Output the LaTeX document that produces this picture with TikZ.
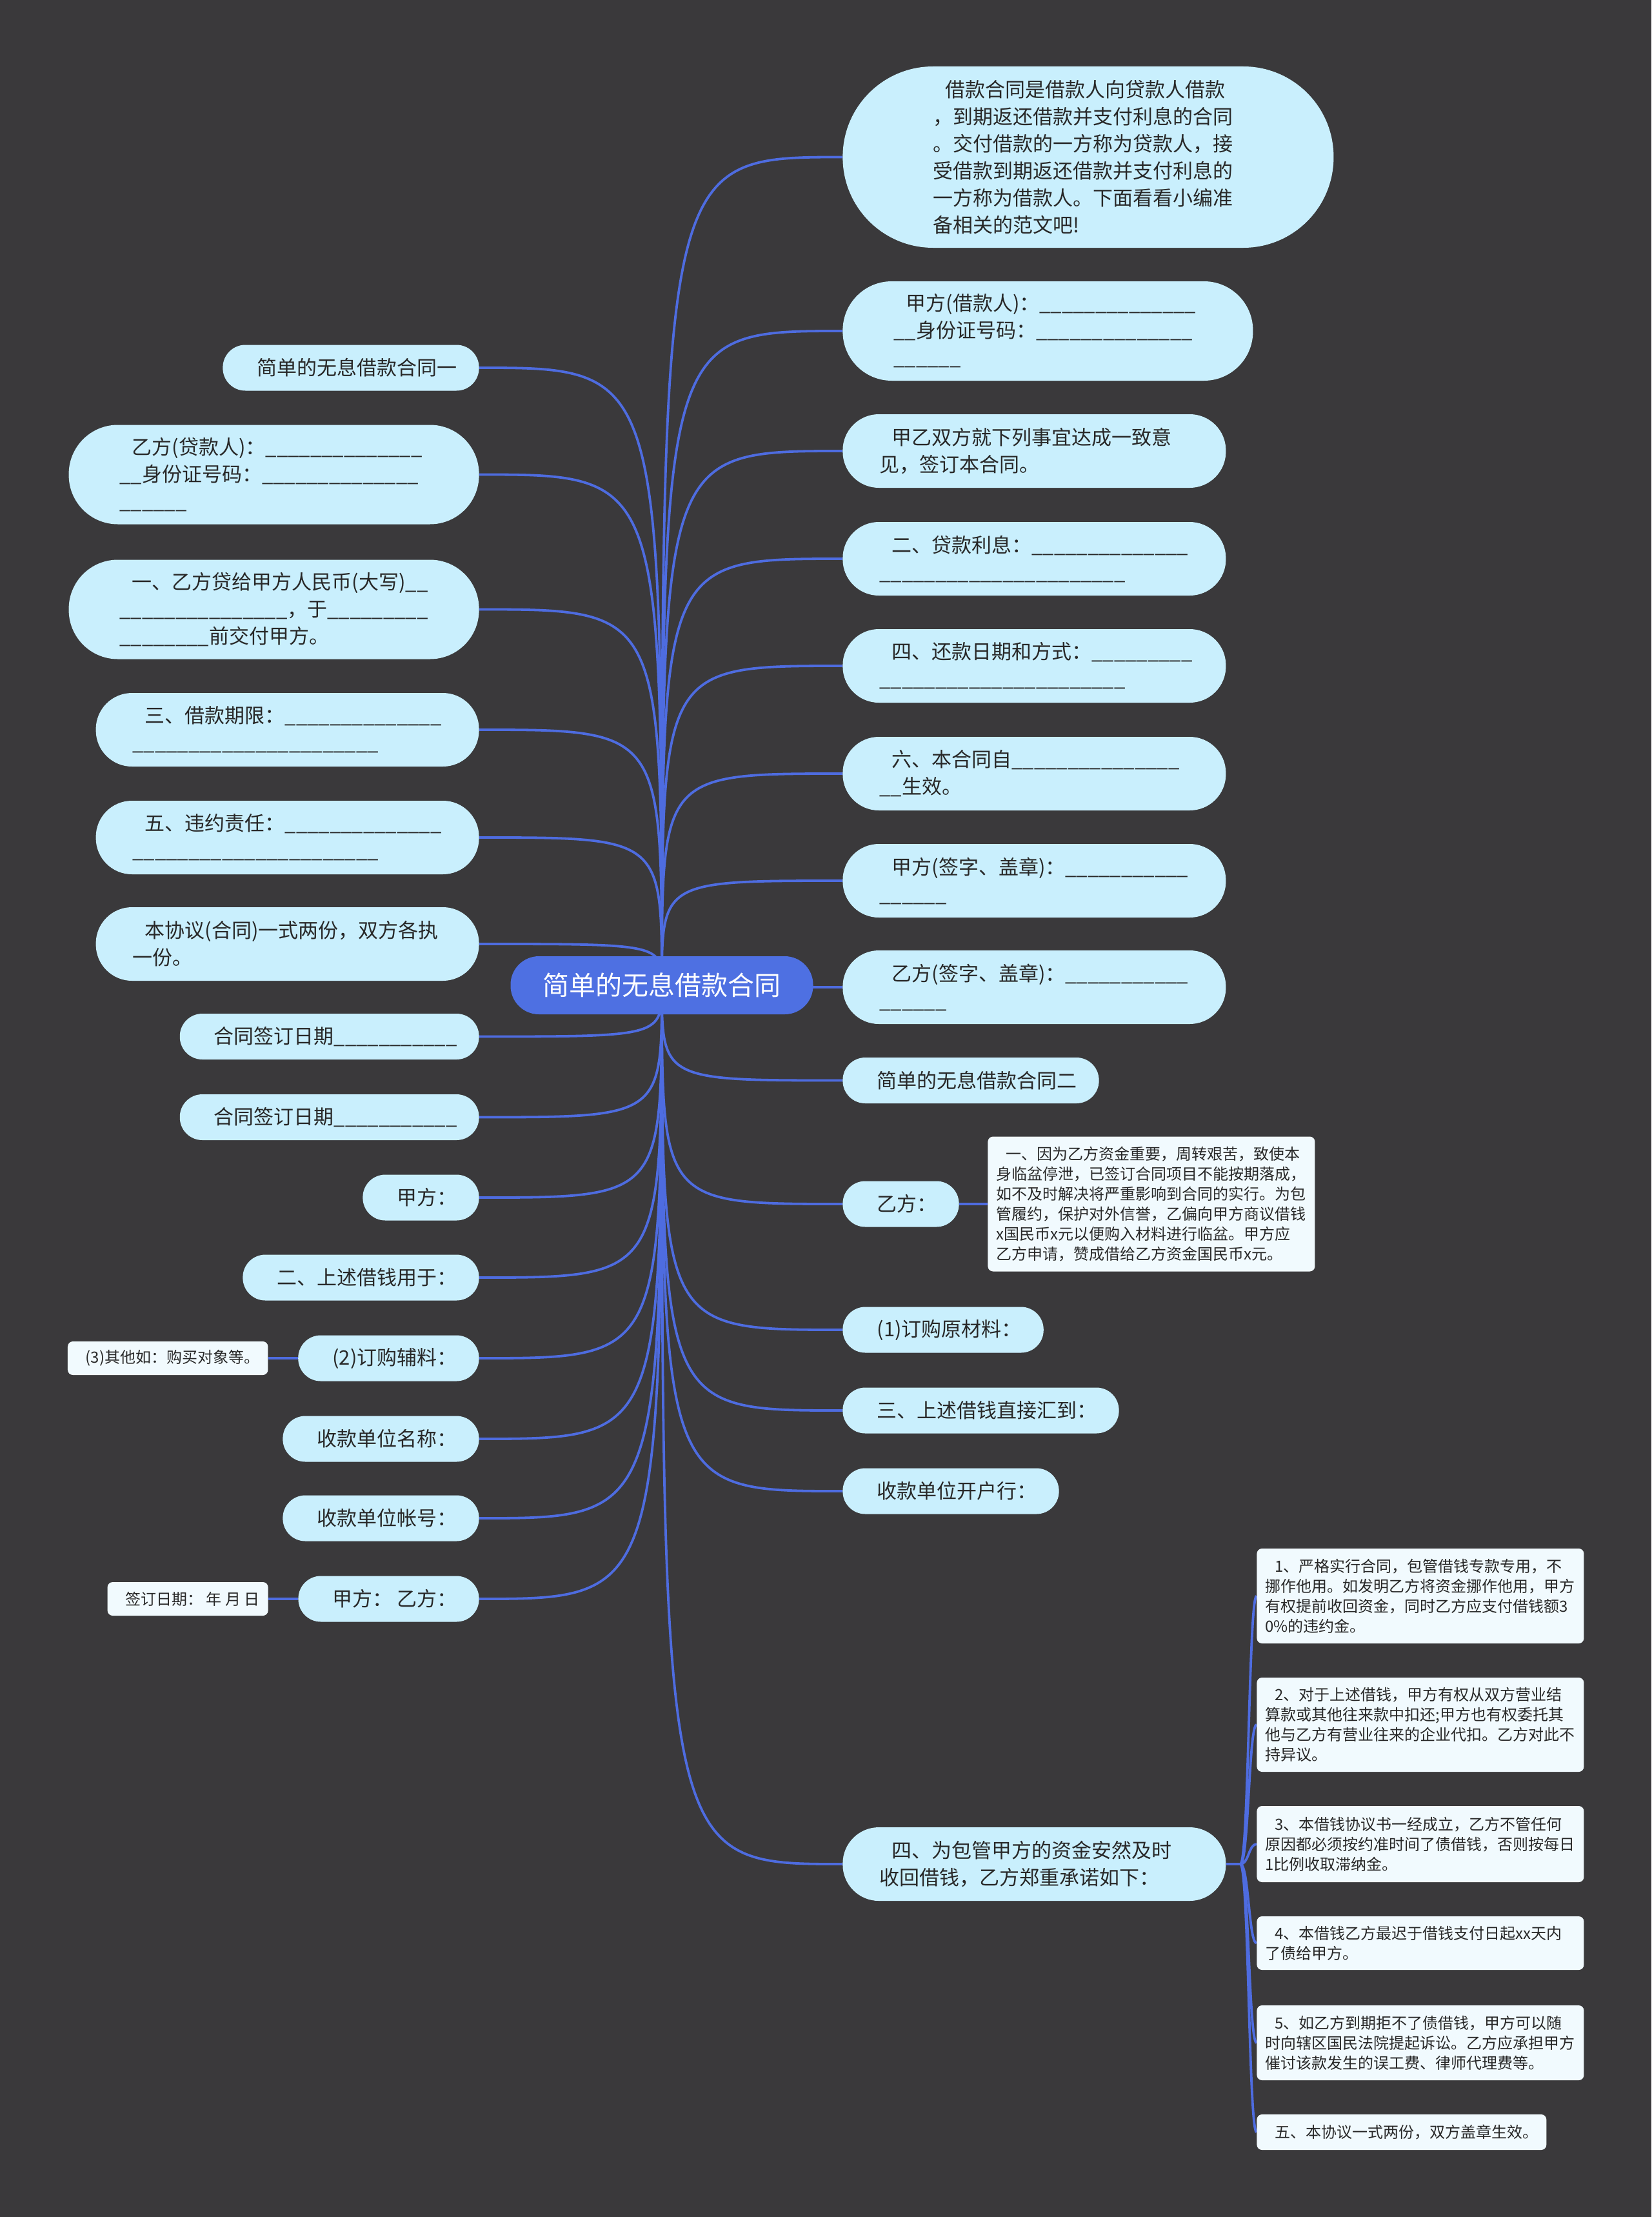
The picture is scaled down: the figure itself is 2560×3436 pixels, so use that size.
\documentclass[tikz,border=0pt]{standalone}
\usepackage{fontspec}
\setmainfont{Noto Sans CJK SC}
\usepackage{tikz}
\usetikzlibrary{positioning}

\definecolor{bgdark}{RGB}{58,57,59}
\definecolor{linkblue}{RGB}{78,108,224}
\definecolor{rootblue}{RGB}{78,112,226}
\definecolor{topicfill}{RGB}{201,239,253}
\definecolor{leaffill}{RGB}{241,250,254}
\definecolor{ink}{RGB}{40,40,40}

\pgfdeclarelayer{bg}
\pgfdeclarelayer{edges}
\pgfsetlayers{bg,edges,main}

\tikzstyle{root} = [rectangle, fill=rootblue, rounded corners=22pt, minimum height=45pt, inner xsep=25pt, text=white, font=\fontsize{20.5}{24}\selectfont]
\tikzstyle{topic} = [rectangle, fill=topicfill, text=ink, font=\fontsize{15.5}{21}\selectfont]
\tikzstyle{topicone} = [topic, rounded corners=17.5pt, minimum height=35.5pt, inner xsep=17pt]
\tikzstyle{topictwo} = [topic, rounded corners=28pt, minimum height=57pt, inner xsep=28.5pt, text width=240pt, align=left]
\tikzstyle{topicthree} = [topic, rounded corners=38pt, minimum height=77pt, inner xsep=39.5pt, text width=239pt, align=left]
\tikzstyle{leaf} = [rectangle, fill=leaffill, text=ink, rounded corners=4pt, inner xsep=6.5pt, minimum height=26pt, font=\fontsize{12}{15.5}\selectfont]
\tikzstyle{leafwide} = [leaf, text width=240.5pt, align=left]
\tikzstyle{link} = [draw=linkblue, line width=1.9pt]

\newcommand{\ind}{\hspace*{0.62em}}
\newcommand{\blank}[1]{\foreach \k in {1,...,#1}{\_}}

\begin{document}
\begin{tikzpicture}[x=0.5pt, y=-0.5pt]

\useasboundingbox (0,0) rectangle (2560,3436);
\begin{pgfonlayer}{bg}
\fill[bgdark] (0,0) rectangle (2560,3436);
\end{pgfonlayer}

% Centre
\node[root] (root) at (1026,1527) {简单的无息借款合同};

% Right branches
\node[topic, rounded corners=70pt, minimum height=140.5pt, inner xsep=70pt, text width=240.5pt, align=left, anchor=west] (intro) at (1306,243.5) {\ind 借款合同是借款人向贷款人借款\\，到期返还借款并支付利息的合同\\。交付借款的一方称为贷款人，接\\受借款到期返还借款并支付利息的\\一方称为借款人。下面看看小编准\\备相关的范文吧!};
\node[topicthree, anchor=west] (borrower) at (1306,513) {\ind 甲方(借款人)：\blank{14}\\\blank{2}身份证号码：\blank{14}\\\blank{6}};
\node[topictwo, anchor=west] (agree) at (1306,699) {\ind 甲乙双方就下列事宜达成一致意\\见，签订本合同。};
\node[topictwo, anchor=west] (interest) at (1306,866) {\ind 二、贷款利息：\blank{14}\\\blank{22}};
\node[topictwo, anchor=west] (repay) at (1306,1032) {\ind 四、还款日期和方式：\blank{9}\\\blank{22}};
\node[topictwo, anchor=west] (effect) at (1306,1199) {\ind 六、本合同自\blank{15}\\\blank{2}生效。};
\node[topictwo, anchor=west] (jiasign) at (1306,1365) {\ind 甲方(签字、盖章)：\blank{11}\\\blank{6}};
\node[topictwo, anchor=west] (yisign) at (1306,1530) {\ind 乙方(签字、盖章)：\blank{11}\\\blank{6}};
\node[topicone, anchor=west] (second) at (1306,1674.5) {\ind 简单的无息借款合同二};
\node[topicone, anchor=west] (yi) at (1306,1866) {\ind 乙方：};
\node[topicone, anchor=west] (rawmat) at (1306,2061) {\ind (1)订购原材料：};
\node[topicone, anchor=west] (remit) at (1306,2186) {\ind 三、上述借钱直接汇到：};
\node[topicone, anchor=west] (bank) at (1306,2311) {\ind 收款单位开户行：};
\node[topictwo, anchor=west] (pledge) at (1306,2889) {\ind 四、为包管甲方的资金安然及时\\收回借钱，乙方郑重承诺如下：};

% Left branches
\node[topicone, anchor=east] (first) at (743,570) {\ind 简单的无息借款合同一};
\node[topicthree, anchor=east] (lender) at (743,735.5) {\ind 乙方(贷款人)：\blank{14}\\\blank{2}身份证号码：\blank{14}\\\blank{6}};
\node[topicthree, anchor=east] (loan) at (743,944.5) {\ind 一、乙方贷给甲方人民币(大写)\blank{2}\\\blank{15}，于\blank{9}\\\blank{8}前交付甲方。};
\node[topictwo, anchor=east] (term) at (743,1131) {\ind 三、借款期限：\blank{14}\\\blank{22}};
\node[topictwo, anchor=east] (breach) at (743,1298) {\ind 五、违约责任：\blank{14}\\\blank{22}};
\node[topictwo, anchor=east] (copies) at (743,1463) {\ind 本协议(合同)一式两份，双方各执\\一份。};
\node[topicone, anchor=east] (dateone) at (743,1606.5) {\ind 合同签订日期\blank{11}};
\node[topicone, anchor=east] (datetwo) at (743,1731.5) {\ind 合同签订日期\blank{11}};
\node[topicone, anchor=east] (jia) at (743,1856) {\ind 甲方：};
\node[topicone, anchor=east] (usage) at (743,1980) {\ind 二、上述借钱用于：};
\node[topicone, anchor=east] (aux) at (743,2105) {\ind (2)订购辅料：};
\node[topicone, anchor=east] (payee) at (743,2230) {\ind 收款单位名称：};
\node[topicone, anchor=east] (account) at (743,2353) {\ind 收款单位帐号：};
\node[topicone, anchor=east] (sign) at (743,2478) {\ind 甲方： 乙方：};

% Leaves
\node[leafwide, minimum height=104.5pt, right=22pt of yi] (yinote) {\ind 一、因为乙方资金重要，周转艰苦，致使本\\身临盆停泄，已签订合同项目不能按期落成，\\如不及时解决将严重影响到合同的实行。为包\\管履约，保护对外信誉，乙偏向甲方商议借钱\\x国民币x元以便购入材料进行临盆。甲方应\\乙方申请，赞成借给乙方资金国民币x元。};
\node[leaf, left=23pt of aux] (other) {\ind (3)其他如：购买对象等。};
\node[leaf, left=23pt of sign] (signdate) {\ind 签订日期： 年 月 日};

\node[leafwide, minimum height=73.5pt, anchor=west] (ca) at (1948,2473.5) {\ind 1、严格实行合同，包管借钱专款专用，不\\挪作他用。如发明乙方将资金挪作他用，甲方\\有权提前收回资金，同时乙方应支付借钱额3\\0\%的违约金。};
\node[leafwide, minimum height=73pt, anchor=west] (cb) at (1948,2673) {\ind 2、对于上述借钱，甲方有权从双方营业结\\算款或其他往来款中扣还;甲方也有权委托其\\他与乙方有营业往来的企业代扣。乙方对此不\\持异议。};
\node[leafwide, minimum height=59pt, anchor=west] (cc) at (1948,2858) {\ind 3、本借钱协议书一经成立，乙方不管任何\\原因都必须按约准时间了债借钱，否则按每日\\1比例收取滞纳金。};
\node[leafwide, minimum height=41.5pt, anchor=west] (cd) at (1948,3011.5) {\ind 4、本借钱乙方最迟于借钱支付日起xx天内\\了债给甲方。};
\node[leafwide, minimum height=58pt, anchor=west] (ce) at (1948,3166) {\ind 5、如乙方到期拒不了债借钱，甲方可以随\\时向辖区国民法院提起诉讼。乙方应承担甲方\\催讨该款发生的误工费、律师代理费等。};
\node[leaf, minimum height=27.5pt, anchor=west] (cf) at (1948,3304.5) {\ind 五、本协议一式两份，双方盖章生效。};

% Connectors
\begin{pgfonlayer}{edges}
\foreach \t in {intro,borrower,agree,interest,repay,effect,jiasign,yisign,second,yi,rawmat,remit,bank,pledge}
  \draw[link] (root.center) .. controls (root.center |- \t.west) .. (\t.west);
\foreach \t in {first,lender,loan,term,breach,copies,dateone,datetwo,jia,usage,aux,payee,account,sign}
  \draw[link] (root.center) .. controls (root.center |- \t.east) .. (\t.east);
\draw[link] (yi) -- (yinote);
\draw[link] (aux) -- (other);
\draw[link] (sign) -- (signdate);
\coordinate (pj) at ([xshift=11pt]pledge.east);
\coordinate (pk) at ([xshift=6.5pt]pj);
\draw[link] (pledge.east) -- (pj);
\foreach \c in {ca,cb,cc,cd,ce,cf}
  \draw[link] (pj) .. controls (pk) and (pk |- \c.west) .. (\c.west);
\end{pgfonlayer}

\end{tikzpicture}
\end{document}
